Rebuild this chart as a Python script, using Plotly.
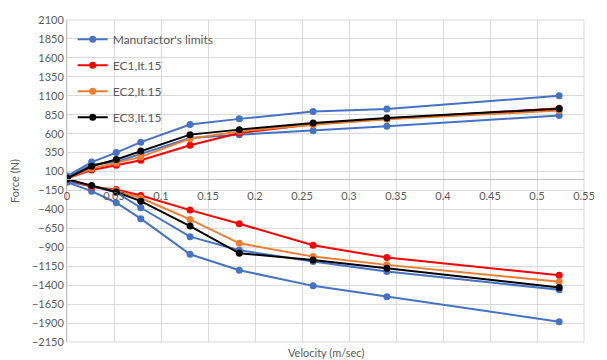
import plotly.graph_objects as go

velocity = [0, 0.0262, 0.0524, 0.0785, 0.1309, 0.1833, 0.2618, 0.3403, 0.5236]

manuf_upper_max = [40, 225, 350, 488, 720, 795, 893, 925, 1100]
manuf_upper_min = [20, 190, 228, 333, 543, 587, 639, 696, 841]
manuf_lower_min = [-30, -95, -175, -378, -760, -939, -1089, -1220, -1461]
manuf_lower_max = [-40, -159, -312, -522, -992, -1203, -1409, -1553, -1883]

ec1_upper = [10, 120, 183, 248, 446, 609, 725, 795, 935]
ec1_lower = [0, -105, -137, -216, -409, -589, -874, -1036, -1268]
ec2_upper = [10, 140, 214, 293, 534, 630, 718, 790, 905]
ec2_lower = [0, -95, -150, -250, -532, -847, -1023, -1132, -1356]
ec3_upper = [10, 170, 258, 370, 587, 653, 741, 807, 929]
ec3_lower = [0, -84, -170, -291, -620, -979, -1067, -1176, -1430]

x_ticks = [0, 0.05, 0.1, 0.15, 0.2, 0.25, 0.3, 0.35, 0.4, 0.45, 0.5, 0.55]
y_ticks = list(range(-2150, 2101, 250))

series = [
    ("Manufactor's limits", "#4472C4", [manuf_upper_max, manuf_upper_min, manuf_lower_min, manuf_lower_max]),
    ("EC1,It.15", "#FF0000", [ec1_upper, ec1_lower]),
    ("EC2,It.15", "#ED7D31", [ec2_upper, ec2_lower]),
    ("EC3,It.15", "#000000", [ec3_upper, ec3_lower]),
]

fig = go.Figure()
for name, color, branches in series:
    for i, ys in enumerate(branches):
        fig.add_trace(go.Scatter(
            x=velocity, y=ys, mode="lines+markers", name=name,
            legendgroup=name, showlegend=(i == 0),
            line=dict(color=color, width=2),
            marker=dict(color=color, size=7),
        ))

font_family = "Lato, 'Open Sans', sans-serif"
ymin, ymax = -2150, 2100

fig.update_layout(
    width=607, height=360,
    margin=dict(l=67, r=14, t=20, b=17),
    paper_bgcolor="white", plot_bgcolor="white",
    font=dict(family=font_family, color="#595959", size=11),
    legend=dict(
        x=0.011, y=0.985, xanchor="left", yanchor="top",
        bgcolor="rgba(0,0,0,0)", font=dict(size=12, color="#595959"),
        traceorder="grouped", tracegroupgap=7, itemwidth=30,
    ),
    xaxis=dict(
        range=[0, 0.55], tickvals=x_ticks, ticktext=[f"{v:g}" for v in x_ticks],
        showgrid=True, gridcolor="#d9d9d9", gridwidth=1,
        showline=True, linecolor="#bfbfbf", linewidth=1,
        zeroline=False, ticks="", ticklabelstandoff=7,
        anchor="free", position=(0 - ymin) / (ymax - ymin),
        tickfont=dict(size=11, color="#595959"),
    ),
    yaxis=dict(
        range=[ymin, ymax], tickvals=y_ticks,
        showgrid=True, gridcolor="#d9d9d9", gridwidth=1,
        showline=True, linecolor="#bfbfbf", linewidth=1,
        zeroline=False, ticks="",
        title=dict(text="Force (N)", font=dict(size=11, color="#595959"), standoff=10),
        tickfont=dict(size=11, color="#595959"),
    ),
    shapes=[
        dict(type="rect", xref="paper", yref="paper", x0=0, x1=1, y0=0, y1=1,
             line=dict(color="#d9d9d9", width=1), layer="below"),
    ],
    annotations=[
        dict(text="Velocity (m/sec)", xref="paper", yref="paper", x=0.5, y=0,
             xanchor="center", yanchor="top", yshift=-2, showarrow=False,
             font=dict(size=11, color="#595959")),
    ],
)

fig.write_html("out.html")
